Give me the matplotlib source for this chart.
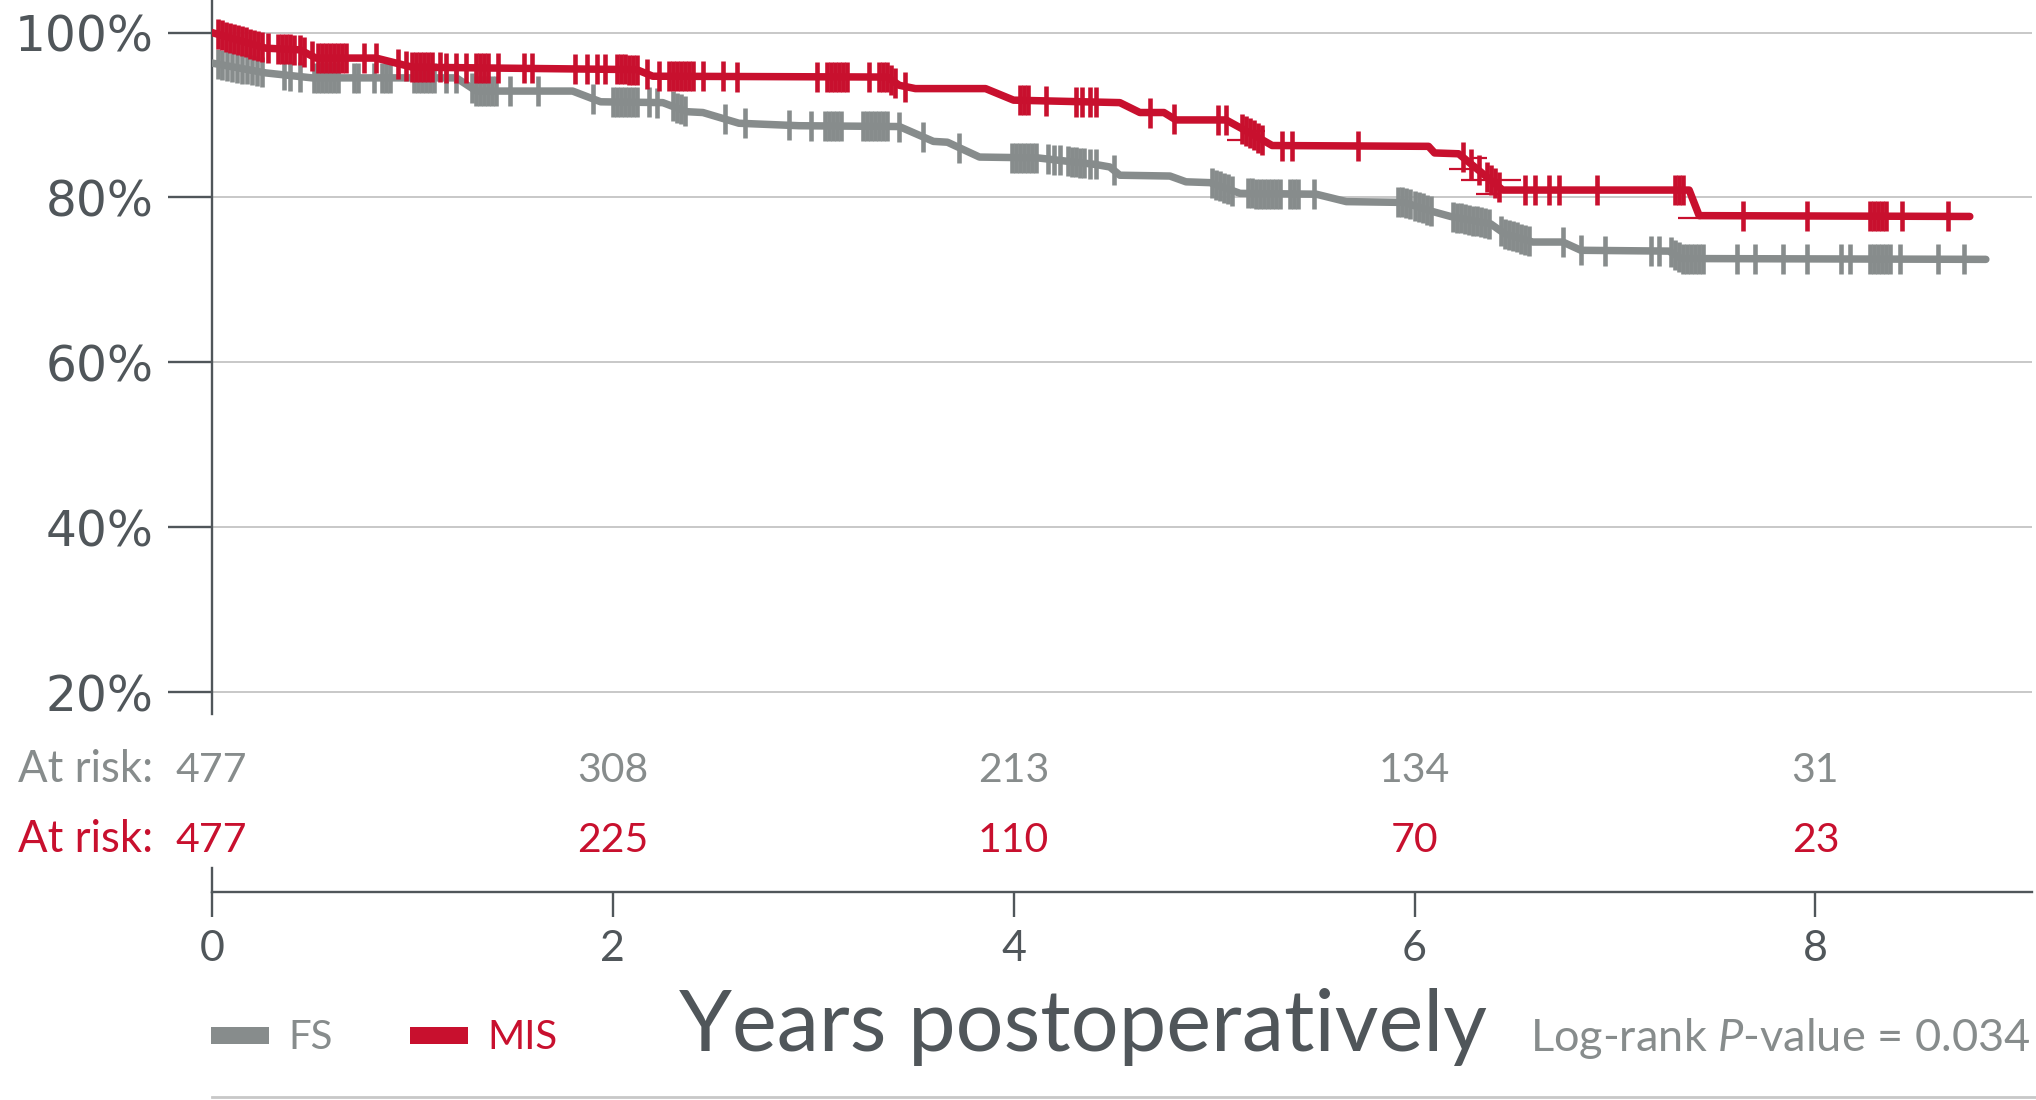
import numpy as np
import matplotlib
matplotlib.use("Agg")
import matplotlib.pyplot as plt
from matplotlib.patches import Rectangle
from matplotlib.lines import Line2D
from matplotlib.transforms import blended_transform_factory

plt.rcParams['font.family'] = ['Lato', 'DejaVu Sans']
plt.rcParams['mathtext.fontset'] = 'custom'
plt.rcParams['mathtext.rm'] = 'Lato'
plt.rcParams['mathtext.it'] = 'Lato:italic'

RED = '#c8102e'
GREY = '#878c8c'
DARK = '#50565a'

# Kaplan-Meier curves (years, survival %)
fs_t = [0, 0.27, 0.5, 1.22, 1.32, 1.80, 1.94, 2.25, 2.37, 2.45, 2.63, 2.93, 3.43, 3.60,
        3.67, 3.83, 4.12, 4.41, 4.48, 4.53, 4.78, 4.86, 4.98, 5.13, 5.51, 5.66, 5.95,
        6.00, 6.09, 6.18, 6.38, 6.45, 6.59, 6.74, 6.83, 7.27, 7.33, 8.85]
fs_s = [96.3, 95.1, 94.5, 94.5, 92.9, 92.9, 91.6, 91.5, 90.4, 90.3, 89.0, 88.7, 88.6, 86.8,
        86.7, 84.9, 84.8, 84.0, 83.7, 82.7, 82.6, 81.9, 81.8, 80.5, 80.4, 79.5, 79.4,
        79.0, 78.3, 77.7, 76.8, 75.6, 74.6, 74.6, 73.6, 73.5, 72.6, 72.5]

mis_t = [0, 0.27, 0.44, 0.52, 0.82, 1.0, 2.12, 2.2, 3.37, 3.43, 3.51, 3.86, 4.0, 4.53,
         4.63, 4.75, 4.81, 5.06, 5.12, 5.18, 5.24, 5.29, 6.07, 6.10, 6.22, 6.26, 6.30,
         6.34, 6.38, 6.44, 7.37, 7.42, 8.77]
mis_s = [100.0, 98.1, 97.9, 96.9, 96.9, 95.8, 95.5, 94.7, 94.6, 93.6, 93.2, 93.2, 91.8, 91.5,
         90.3, 90.3, 89.4, 89.4, 88.6, 87.8, 87.0, 86.3, 86.2, 85.4, 85.3, 84.5, 83.7,
         82.9, 82.1, 80.9, 80.9, 77.8, 77.7]

# censoring times (years)
fs_cens = [0.03, 0.05, 0.075, 0.10, 0.125, 0.15, 0.175, 0.20, 0.225, 0.25, 0.36, 0.39, 0.44,
           0.51, 0.53, 0.55, 0.57, 0.59, 0.61, 0.63, 0.71, 0.73, 0.81, 0.85, 0.87, 0.89,
           1.01, 1.03, 1.05, 1.07, 1.09, 1.11, 1.17, 1.22,
           1.30, 1.32, 1.34, 1.36, 1.38, 1.40, 1.42, 1.49, 1.63, 1.90,
           2.00, 2.02, 2.04, 2.06, 2.08, 2.10, 2.12, 2.18, 2.22, 2.30, 2.32, 2.34, 2.36,
           2.56, 2.66, 2.88, 2.99, 3.06, 3.08, 3.10, 3.12, 3.14,
           3.25, 3.27, 3.29, 3.31, 3.33, 3.35, 3.37, 3.43, 3.55, 3.73,
           3.99, 4.01, 4.03, 4.05, 4.07, 4.09, 4.11, 4.17, 4.20, 4.23,
           4.27, 4.29, 4.31, 4.33, 4.35, 4.38, 4.41, 4.50,
           4.99, 5.01, 5.03, 5.05, 5.07, 5.09, 5.17, 5.19, 5.21,
           5.23, 5.25, 5.27, 5.29, 5.31, 5.33, 5.38, 5.40, 5.42, 5.50, 5.92,
           5.94, 5.96, 5.98, 6.00, 6.02, 6.04, 6.06, 6.08,
           6.19, 6.21, 6.23, 6.25, 6.27, 6.29, 6.31, 6.33, 6.35, 6.37,
           6.43, 6.45, 6.47, 6.49, 6.51, 6.53, 6.55, 6.57, 6.74, 6.83, 6.95, 7.18, 7.22,
           7.28, 7.30, 7.32, 7.34, 7.36, 7.38, 7.40, 7.42, 7.44,
           7.61, 7.70, 7.84, 7.96, 8.13, 8.17, 8.27, 8.29, 8.31, 8.33, 8.35, 8.37,
           8.42, 8.61, 8.74]
mis_cens = [0.03, 0.05, 0.07, 0.09, 0.11, 0.13, 0.15, 0.17, 0.19, 0.21, 0.23, 0.25, 0.28,
            0.33, 0.35, 0.37, 0.39, 0.41, 0.44, 0.46, 0.50,
            0.53, 0.55, 0.57, 0.59, 0.61, 0.63, 0.65, 0.67, 0.76, 0.82, 0.93, 0.97,
            1.00, 1.02, 1.04, 1.06, 1.08, 1.10, 1.14, 1.17, 1.22, 1.27, 1.32,
            1.34, 1.36, 1.38, 1.43, 1.56, 1.60, 1.81, 1.87, 1.92, 1.96,
            2.02, 2.04, 2.06, 2.08, 2.10, 2.12, 2.17, 2.23,
            2.28, 2.30, 2.32, 2.34, 2.36, 2.38, 2.40, 2.45, 2.55, 2.62,
            3.02, 3.07, 3.09, 3.11, 3.13, 3.15, 3.17, 3.28, 3.33, 3.35, 3.37, 3.39, 3.41, 3.46,
            4.03, 4.05, 4.07, 4.16, 4.31, 4.34, 4.38, 4.41,
            4.68, 4.80, 5.02, 5.06, 5.14, 5.16, 5.18, 5.20, 5.22, 5.24, 5.34, 5.39, 5.72,
            6.24, 6.28, 6.32, 6.36, 6.38, 6.40, 6.42, 6.55, 6.60, 6.67, 6.72, 6.91,
            7.30, 7.32, 7.34, 7.64, 7.96, 8.27, 8.29, 8.31, 8.33, 8.35, 8.43, 8.66]

# short horizontal marks on the MIS curve (centre year, %, width in years)
mis_hbar_t = [5.10, 5.20, 6.24, 6.32, 6.36, 6.38, 7.37]
mis_hbar_s = [87.0, 88.0, 83.5, 84.8, 80.4, 82.1, 77.5]
mis_hbar_w = [0.075, 0.11, 0.14, 0.085, 0.11, 0.30, 0.115]

risk_years = [0, 2, 4, 6, 8]
fs_risk = [477, 308, 213, 134, 31]
mis_risk = [477, 225, 110, 70, 23]

x_ticks = [0, 2, 4, 6, 8]
y_ticks = [20, 40, 60, 80, 100]

fig = plt.figure(figsize=(20.36, 11), dpi=100)
ax = fig.add_axes([0.104, 0.351, 0.894, 0.649])

for t, s, c, cens in [(fs_t, fs_s, GREY, fs_cens), (mis_t, mis_s, RED, mis_cens)]:
    ax.plot(t, s, color=c, lw=5.4, solid_joinstyle='round', solid_capstyle='round', zorder=3)
    ax.plot(cens, np.interp(cens, t, s), ls='none', marker='|', ms=21, mew=3.3,
            color=c, zorder=3)
hb_t = np.array(mis_hbar_t)
hb_w = np.array(mis_hbar_w)
ax.hlines(mis_hbar_s, hb_t - hb_w / 2, hb_t + hb_w / 2, color=RED, lw=1.6, zorder=3)

ax.set_xlim(0, 9.08)
ax.set_ylim(17.4, 103.94)
ax.set_yticks(y_ticks)
ax.set_yticklabels([f'{v}%' for v in y_ticks], family=['DejaVu Sans'], fontsize=35, color=DARK)
ax.set_xticks([])
ax.yaxis.grid(True, color='#c8c8c8', lw=1.4)
ax.set_axisbelow(True)
for side in ['top', 'right', 'bottom']:
    ax.spines[side].set_visible(False)
ax.spines['left'].set_color(DARK)
ax.spines['left'].set_linewidth(1.7)
ax.tick_params(axis='y', direction='out', length=32, width=1.7, color=DARK, pad=10)

# x axis + at-risk table
ax2 = fig.add_axes([0.104, 0.189, 0.894, 0.0218])
ax2.set_xlim(0, 9.08)
ax2.set_yticks([])
ax2.set_xticks(x_ticks)
ax2.set_xticklabels([str(v) for v in x_ticks], fontsize=31, color=DARK)
ax2.tick_params(axis='x', direction='out', length=18, width=1.7, color=DARK, pad=9)
for side in ['top', 'right']:
    ax2.spines[side].set_visible(False)
for side in ['left', 'bottom']:
    ax2.spines[side].set_color(DARK)
    ax2.spines[side].set_linewidth(1.7)
ax2.patch.set_visible(False)

tr = blended_transform_factory(ax2.transData, fig.transFigure)
for vals, c, yb in [(fs_risk, GREY, 0.289), (mis_risk, RED, 0.2255)]:
    ax2.text(-0.29, yb, 'At risk:', transform=tr, ha='right', va='baseline', fontsize=31.5, color=c)
    for x, v in zip(risk_years, vals):
        ax2.text(x, yb, str(v), transform=tr, ha='center', va='baseline', fontsize=29.5, color=c)

fig.text(0.532, 0.0445, 'Years postoperatively', ha='center', va='baseline', fontsize=61, color=DARK)
fig.text(0.997, 0.0445, r'Log-rank $P$-value = 0.034', ha='right', va='baseline', fontsize=32.5, color=GREY)

# legend
for x0, c, label in [(0.1036, GREY, 'FS'), (0.2014, RED, 'MIS')]:
    fig.add_artist(Rectangle((x0, 0.0509), 0.0285, 0.0155, transform=fig.transFigure,
                             color=c, lw=0))
    fig.text(x0 + 0.0379, 0.0464, label, ha='left', va='baseline', fontsize=29, color=c)

fig.add_artist(Line2D([0.104, 1.0], [0.003, 0.003], transform=fig.transFigure,
                      color='#c8c8c8', lw=2))

fig.savefig('out.png', dpi=100)
